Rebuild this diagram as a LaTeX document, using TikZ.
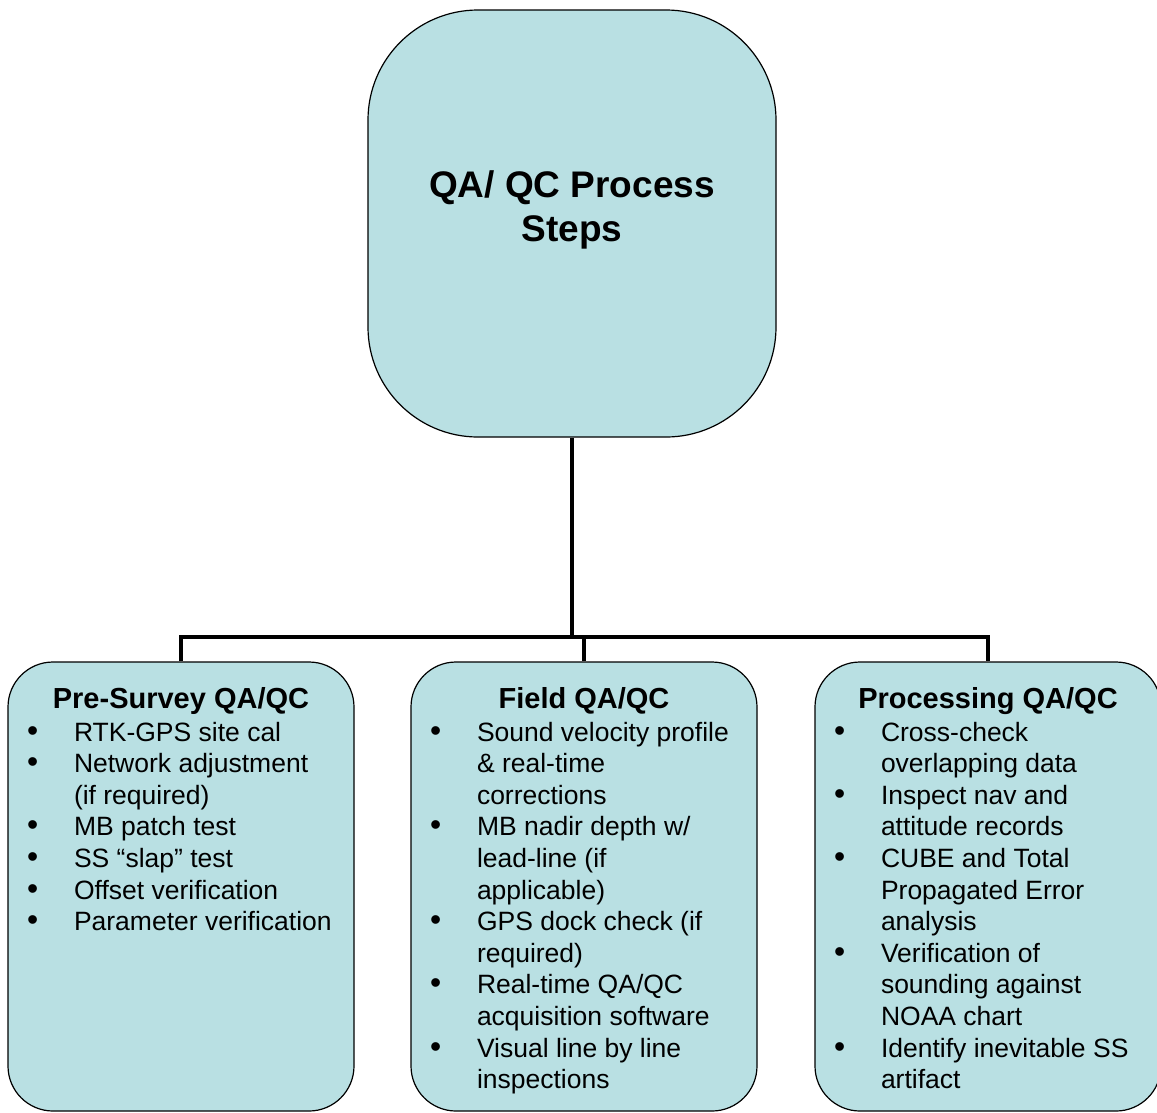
\documentclass[tikz,border=0pt]{standalone}
\usepackage{fontspec}
\setmainfont{Liberation Sans}
\usepackage{tikz}
\usetikzlibrary{positioning}
\usepackage{xcolor}
\definecolor{boxcyan}{RGB}{185, 224, 227}

\newcommand{\bitem}[1]{\par\hangindent=48pt\hangafter=1\noindent\makebox[48pt][l]{\hspace{1pt}\scalebox{1.2}{\textbullet}}{\let\\\newline #1}}
\newcommand{\boxhead}[1]{{\centering\bfseries\fontsize{29}{31.6}\selectfont #1\par}\vspace{1.4pt}}
\newcommand{\boxtext}[1]{\parbox[c][449pt][t]{310pt}{\vspace*{25pt}\raggedright\fontsize{26.5}{31.6}\selectfont #1}}

\begin{document}
\begin{tikzpicture}[x=1pt, y=-1pt,
    topbox/.style={draw=black, line width=1.2pt, fill=boxcyan, rounded corners=110pt,
        minimum width=408pt, minimum height=427pt},
    titletext/.style={font=\bfseries\fontsize{37}{44}\selectfont, align=center},
    stepbox/.style={draw=black, line width=1.2pt, fill=boxcyan, rounded corners=45pt,
        minimum width=346pt, minimum height=449pt, inner xsep=18pt, inner ysep=0pt},
    conn/.style={line width=4.5pt}]
    \useasboundingbox (0,0) rectangle (1157,1112);

    % top box
    \node[topbox] (top) at (572,223.5) {};
    \node[titletext] (title) at ([yshift=14pt]top.center) {QA/ QC Process\\Steps};

    % the three steps
    \node[stepbox] (pre) at (181,886.5) {\boxtext{%
        \boxhead{Pre-Survey QA/QC}
        \bitem{RTK-GPS site cal}
        \bitem{Network adjustment\\(if required)}
        \bitem{MB patch test}
        \bitem{SS “slap” test}
        \bitem{Offset verification}
        \bitem{Parameter verification}}};
    \node[stepbox] (field) at (584,886.5) {\boxtext{%
        \boxhead{Field QA/QC}
        \bitem{Sound velocity profile\\\& real-time\\corrections}
        \bitem{MB nadir depth w/\\lead-line (if\\applicable)}
        \bitem{GPS dock check (if\\required)}
        \bitem{Real-time QA/QC\\acquisition software}
        \bitem{Visual line by line\\inspections}}};
    \node[stepbox] (proc) at (988,886.5) {\boxtext{%
        \boxhead{Processing QA/QC}
        \bitem{Cross-check\\overlapping data}
        \bitem{Inspect nav and\\attitude records}
        \bitem{CUBE and Total\\Propagated Error\\analysis}
        \bitem{Verification of\\sounding against\\NOAA chart}
        \bitem{Identify inevitable SS\\artifact}}};

    % connectors
    \coordinate (bus) at (572,637);
    \draw[conn] (top.south) -- (bus);
    \draw[conn] (pre.north) |- (bus) -| (proc.north);
    \draw[conn] (field.north) -- (field.north |- bus);
\end{tikzpicture}
\end{document}
